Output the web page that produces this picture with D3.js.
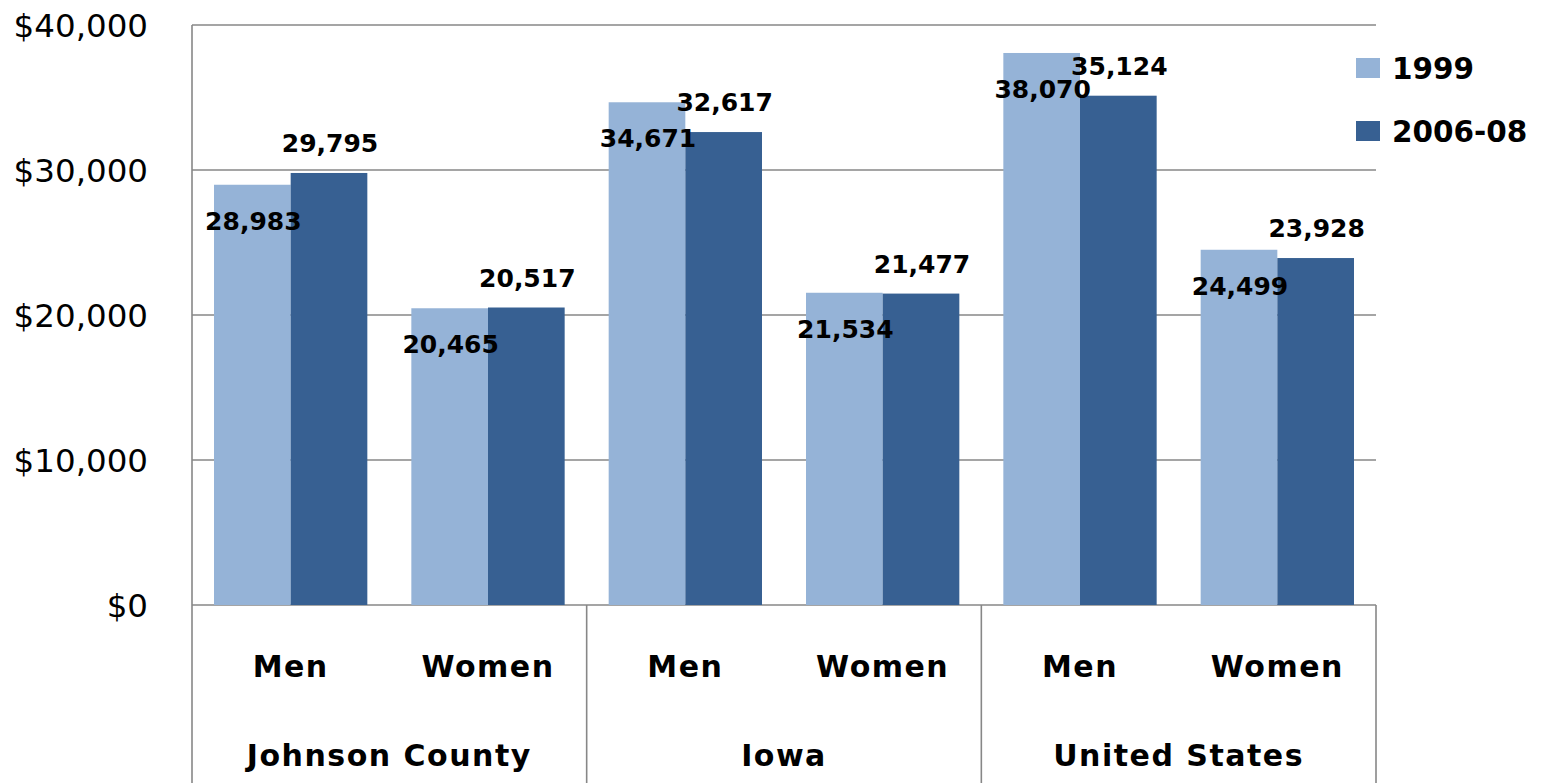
<!DOCTYPE html>
<html>
<head>
<meta charset="utf-8">
<script src="https://cdn.jsdelivr.net/npm/d3@7"></script>
<style>
  html, body { margin: 0; padding: 0; background: #fff; }
  svg { display: block; }
</style>
</head>
<body>
<div id="chart"></div>
<script>
// data
const regions = ['Johnson County', 'Iowa', 'United States'];
const sexes = ['Men', 'Women'];
const seriesNames = ['1999', '2006-08'];
const values1999 = [28983, 20465, 34671, 21534, 38070, 24499];
const values2006 = [29795, 20517, 32617, 21477, 35124, 23928];
const yTicks = [0, 10000, 20000, 30000, 40000];

const W = 1541, H = 783;
const margin = { left: 192, right: 165, top: 25, bottom: 178 };
const colors = ['#95b3d7', '#376092'];
const gridColor = '#878787';
const font = 'DejaVu Sans, Verdana, sans-serif';

const svg = d3.select('#chart').append('svg')
    .attr('width', W)
    .attr('height', H);

// flatten the two-level categories
const cats = [];
regions.forEach((r, i) => sexes.forEach((s, j) => cats.push({ region: r, sex: s, idx: i * 2 + j })));

const x0 = d3.scaleBand()
    .domain(cats.map(d => d.idx))
    .range([margin.left, W - margin.right])
    .paddingInner(0.223)
    .paddingOuter(0.1115);

const x1 = d3.scaleBand()
    .domain(seriesNames)
    .range([0, x0.bandwidth()]);

const y = d3.scaleLinear()
    .domain([0, 40000])
    .range([H - margin.bottom, margin.top]);

const step = x0.step();
const x0Left = margin.left;
const xRight = W - margin.right;

// gridlines
svg.append('g')
    .selectAll('line')
    .data(yTicks)
    .enter().append('line')
    .attr('x1', x0Left)
    .attr('x2', xRight)
    .attr('y1', d => y(d))
    .attr('y2', d => y(d))
    .style('stroke', gridColor)
    .style('stroke-width', 1.6);

// y axis labels
svg.append('g')
    .selectAll('text')
    .data(yTicks)
    .enter().append('text')
    .attr('x', 148)
    .attr('y', d => y(d))
    .attr('dy', '0.36em')
    .attr('text-anchor', 'end')
    .style('font-family', font)
    .style('font-size', '32.5px')
    .style('fill', '#000')
    .text(d => '$' + d3.format(',')(d));

// bars
const rows = cats.map(c => ({ ...c, vals: [values1999[c.idx], values2006[c.idx]] }));

const groups = svg.append('g')
    .selectAll('g')
    .data(rows)
    .enter().append('g')
    .attr('transform', d => `translate(${x0(d.idx)},0)`);

groups.selectAll('rect')
    .data(d => d.vals.map((v, k) => ({ key: seriesNames[k], v, k })))
    .enter().append('rect')
    .attr('x', d => x1(d.key))
    .attr('y', d => y(d.v))
    .attr('width', x1.bandwidth())
    .attr('height', d => y(0) - y(d.v))
    .style('fill', d => colors[d.k]);

// data labels
groups.selectAll('text')
    .data(d => d.vals.map((v, k) => ({ key: seriesNames[k], v, k })))
    .enter().append('text')
    .attr('x', d => x1(d.key) + x1.bandwidth() / 2 + 1)
    .attr('y', d => y(d.v) + (d.k === 0 ? 36 : -30))
    .attr('dy', '0.36em')
    .attr('text-anchor', 'middle')
    .style('font-family', font)
    .style('font-weight', 'bold')
    .style('font-size', '25px')
    .style('fill', '#000')
    .text(d => d3.format(',')(d.v));

// left axis line and category frame
svg.append('line')
    .attr('x1', x0Left).attr('x2', x0Left)
    .attr('y1', y(40000)).attr('y2', H)
    .style('stroke', gridColor).style('stroke-width', 1.6);

svg.append('g')
    .selectAll('line')
    .data(d3.range(1, regions.length + 1))
    .enter().append('line')
    .attr('x1', i => x0Left + i * 2 * step)
    .attr('x2', i => x0Left + i * 2 * step)
    .attr('y1', y(0))
    .attr('y2', H)
    .style('stroke', gridColor)
    .style('stroke-width', 1.6);

// category labels
svg.append('g')
    .selectAll('text')
    .data(cats)
    .enter().append('text')
    .attr('x', d => x0(d.idx) + x0.bandwidth() / 2)
    .attr('y', 666)
    .attr('dy', '0.36em')
    .attr('text-anchor', 'middle')
    .style('font-family', font)
    .style('font-weight', 'bold')
    .style('font-size', '30px')
    .style('letter-spacing', '1.5px')
    .style('fill', '#000')
    .text(d => d.sex);

svg.append('g')
    .selectAll('text')
    .data(regions)
    .enter().append('text')
    .attr('x', (d, i) => x0Left + (i * 2 + 1) * step)
    .attr('y', 755)
    .attr('dy', '0.36em')
    .attr('text-anchor', 'middle')
    .style('font-family', font)
    .style('font-weight', 'bold')
    .style('font-size', '30px')
    .style('letter-spacing', '1.5px')
    .style('fill', '#000')
    .text(d => d);

// legend
const legend = svg.append('g')
    .selectAll('g')
    .data(seriesNames)
    .enter().append('g')
    .attr('transform', (d, i) => `translate(1356,${68 + i * 63})`);

legend.append('rect')
    .attr('x', 0).attr('y', -10)
    .attr('width', 24).attr('height', 20)
    .style('fill', (d, i) => colors[i]);

legend.append('text')
    .attr('x', 36)
    .attr('y', 0)
    .attr('dy', '0.36em')
    .style('font-family', font)
    .style('font-weight', 'bold')
    .style('font-size', '29.5px')
    .style('fill', '#000')
    .text(d => d);
</script>
</body>
</html>
